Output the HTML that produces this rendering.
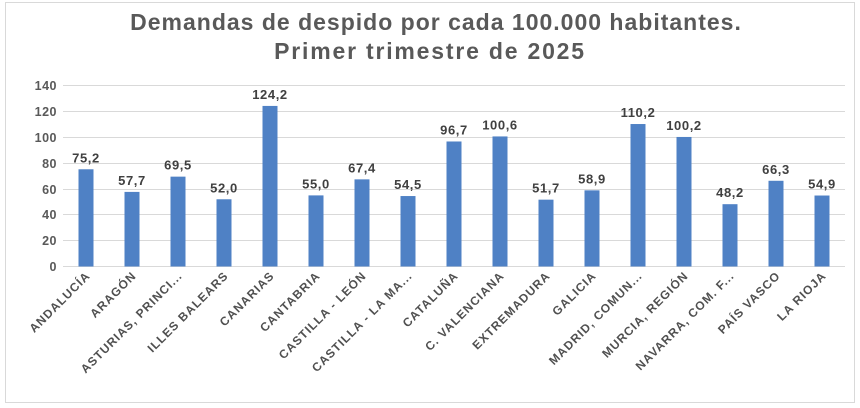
<!DOCTYPE html>
<html><head><meta charset="utf-8"><style>
body{margin:0;background:#fff}
svg{display:block;font-family:"Liberation Sans",sans-serif}
</style></head><body>
<svg width="860" height="408" viewBox="0 0 860 408">
<rect x="5.5" y="2.5" width="849" height="400" fill="#fff" stroke="#d9d9d9"/>
<text x="436" y="30" text-anchor="middle" font-size="23" letter-spacing="1" font-weight="bold" fill="#595959">Demandas de despido por cada 100.000 habitantes.</text>
<text x="430" y="59" text-anchor="middle" font-size="23" letter-spacing="1.8" font-weight="bold" fill="#595959">Primer trimestre de 2025</text>
<g stroke="#d9d9d9" stroke-width="1">
<line x1="63" x2="845" y1="85.5" y2="85.5"/><line x1="63" x2="845" y1="111.5" y2="111.5"/>
<line x1="63" x2="845" y1="137.5" y2="137.5"/><line x1="63" x2="845" y1="163.5" y2="163.5"/>
<line x1="63" x2="845" y1="189.5" y2="189.5"/><line x1="63" x2="845" y1="214.5" y2="214.5"/>
<line x1="63" x2="845" y1="240.5" y2="240.5"/><line x1="63" x2="845" y1="266.5" y2="266.5"/>
</g>
<g font-size="12.5" font-weight="bold" fill="#595959" text-anchor="end" letter-spacing="0.5">
<text x="57" y="90">140</text><text x="57" y="116">120</text><text x="57" y="142">100</text>
<text x="57" y="168">80</text><text x="57" y="194">60</text><text x="57" y="219">40</text>
<text x="57" y="245">20</text><text x="57" y="271">0</text>
</g>
<g id="bars"></g>
</svg>
<script>
const d=[["ANDALUCÍA",75.2],["ARAGÓN",57.7],["ASTURIAS, PRINCI...",69.5],["ILLES BALEARS",52.0],["CANARIAS",124.2],["CANTABRIA",55.0],["CASTILLA - LEÓN",67.4],["CASTILLA - LA MA...",54.5],["CATALUÑA",96.7],["C. VALENCIANA",100.6],["EXTREMADURA",51.7],["GALICIA",58.9],["MADRID, COMUN...",110.2],["MURCIA, REGIÓN",100.2],["NAVARRA, COM. F...",48.2],["PAÍS VASCO",66.3],["LA RIOJA",54.9]];
const g=document.getElementById('bars');let h='';
const y0=266.5,s=181/140;
d.forEach((e,i)=>{const cx=86+i*46,top=y0-e[1]*s;
h+=`<rect x="${cx-7.5}" y="${top}" width="15" height="${y0-top}" fill="#4f81c5"/>`;
h+=`<text x="${cx}" y="${top-7}" text-anchor="middle" font-size="13" letter-spacing="0.6" font-weight="bold" fill="#404040">${e[1].toFixed(1).replace('.',',')}</text>`;
h+=`<text transform="translate(${cx+5},${y0+10}) rotate(-45)" text-anchor="end" font-size="12" letter-spacing="1" font-weight="bold" fill="#505050">${e[0]}</text>`;});
g.innerHTML=h;
</script>
</body></html>
